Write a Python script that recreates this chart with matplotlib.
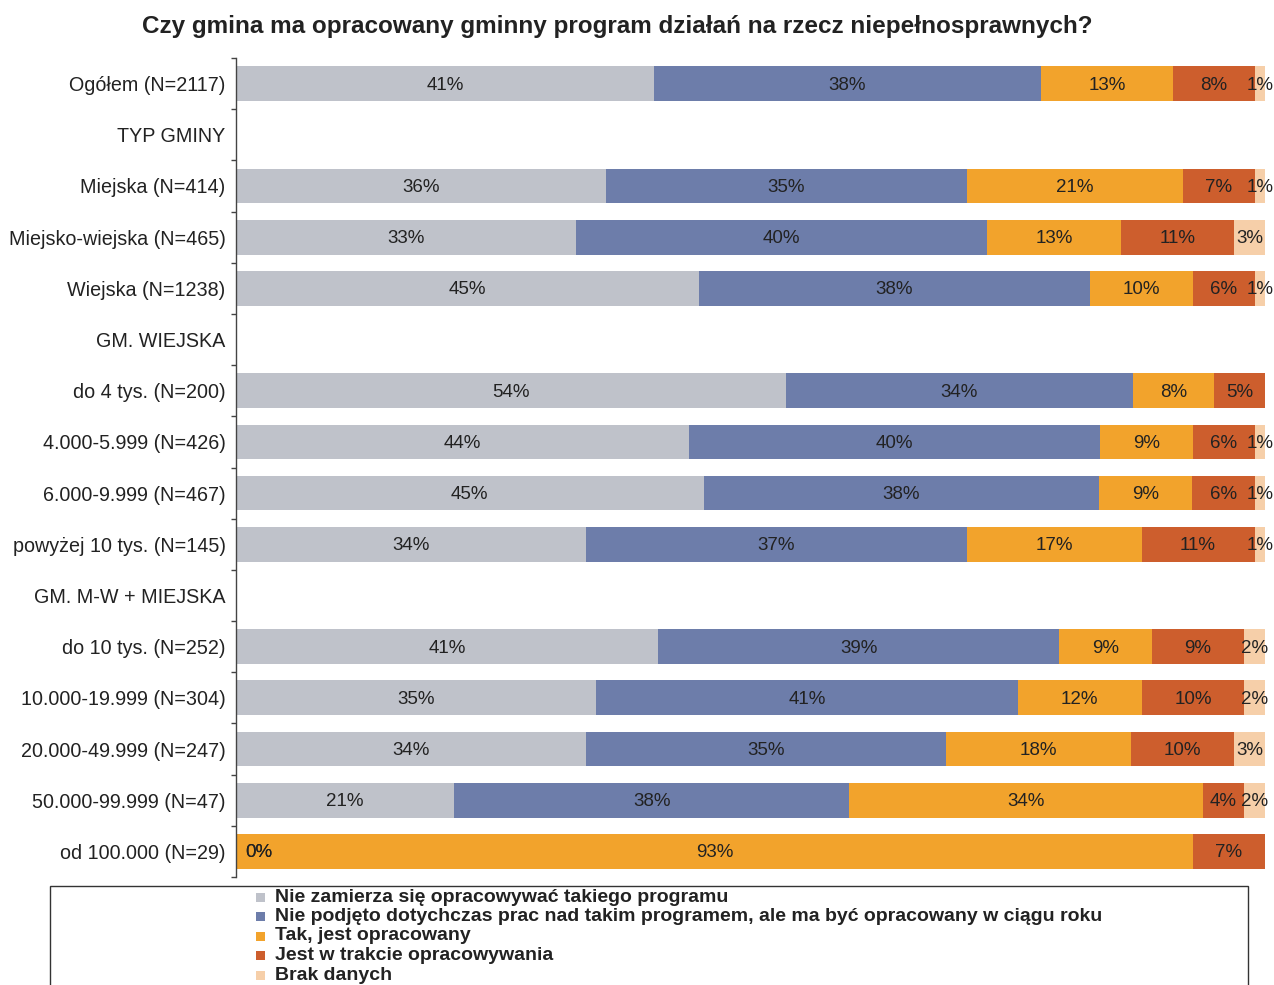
import matplotlib
matplotlib.use("Agg")
import matplotlib.pyplot as plt
from matplotlib.patches import Rectangle
import numpy as np

plt.rcParams['font.family'] = ['Liberation Sans', 'DejaVu Sans']

title = "Czy gmina ma opracowany gminny program działań na rzecz niepełnosprawnych?"

categories = [
    "Ogółem (N=2117)",
    "TYP GMINY",
    "Miejska (N=414)",
    "Miejsko-wiejska (N=465)",
    "Wiejska (N=1238)",
    "GM. WIEJSKA",
    "do 4 tys. (N=200)",
    "4.000-5.999 (N=426)",
    "6.000-9.999 (N=467)",
    "powyżej 10 tys. (N=145)",
    "GM. M-W + MIEJSKA",
    "do 10 tys. (N=252)",
    "10.000-19.999 (N=304)",
    "20.000-49.999 (N=247)",
    "50.000-99.999 (N=47)",
    "od 100.000 (N=29)",
]

series_names = [
    "Nie zamierza się opracowywać takiego programu",
    "Nie podjęto dotychczas prac nad takim programem, ale ma być opracowany w ciągu roku",
    "Tak, jest opracowany",
    "Jest w trakcie opracowywania",
    "Brak danych",
]

# None marks section header rows (no bar)
nie_zamierza = [41, None, 36, 33, 45, None, 54, 44, 45, 34, None, 41, 35, 34, 21, 0]
nie_podjeto = [38, None, 35, 40, 38, None, 34, 40, 38, 37, None, 39, 41, 35, 38, 0]
tak = [13, None, 21, 13, 10, None, 8, 9, 9, 17, None, 9, 12, 18, 34, 93]
w_trakcie = [8, None, 7, 11, 6, None, 5, 6, 6, 11, None, 9, 10, 10, 4, 7]
brak = [1, None, 1, 3, 1, None, 0, 1, 1, 1, None, 2, 2, 3, 2, 0]

series = [nie_zamierza, nie_podjeto, tak, w_trakcie, brak]
colors = ["#BFC2CA", "#6D7DAA", "#F2A32C", "#CD5E2D", "#F6CFA9"]
text_color = "#222222"

W, H = 1274, 985
fig = plt.figure(figsize=(W / 100, H / 100), dpi=100)
ax = fig.add_axes([236 / W, 1 - 877 / H, (1265 - 236) / W, (877 - 58) / H])

n = len(categories)
y = np.arange(n)
label_dy = 0.03  # small downward nudge so digits sit optically centred

for i in range(n):
    if series[0][i] is None:
        continue
    vals = [s[i] for s in series]
    total = sum(vals)
    left = 0.0
    for v, c in zip(vals, colors):
        share = v / total * 100
        ax.barh(i, share, left=left, height=0.68, color=c, edgecolor="none")
        if v > 0:
            ax.text(left + share / 2, i + label_dy, f"{v}%", ha="center",
                    va="center", fontsize=13.5, color=text_color)
        elif left == 0:
            ax.text(left + 0.9, i + label_dy, f"{v}%", ha="left",
                    va="center", fontsize=13.5, color=text_color)
        left += share

ax.set_xlim(0, 100)
ax.set_ylim(n - 0.5, -0.5)

for side in ("top", "right", "bottom"):
    ax.spines[side].set_visible(False)
ax.spines["left"].set_color("#444444")
ax.spines["left"].set_linewidth(1.0)

ax.set_xticks([])
ax.set_yticks(np.arange(-0.5, n, 1.0))
ax.set_yticklabels([])
ax.tick_params(axis="y", which="major", length=3.6, width=1.0, color="#444444")
ax.set_yticks(y, minor=True)
ax.set_yticklabels(categories, minor=True, fontsize=14.2, color=text_color)
ax.tick_params(axis="y", which="minor", length=0, pad=7.5)

fig.text(617.5 / W, 1 - 26 / H, title, ha="center", va="center",
         fontsize=17.5, fontweight="bold", color=text_color)

# Legend box and entries
fig.add_artist(Rectangle((50 / W, -0.05), (1248 - 50) / W, 0.05 + 1 - 886 / H,
                         transform=fig.transFigure, facecolor="none",
                         edgecolor="#333333", linewidth=1.0))
for k, (name, c) in enumerate(zip(series_names, colors)):
    yc = 897 + k * 19.5
    fig.add_artist(Rectangle((256 / W, 1 - (yc + 4.5) / H), 9 / W, 9 / H,
                             transform=fig.transFigure, facecolor=c,
                             edgecolor="none"))
    fig.text(275 / W, 1 - yc / H, name, ha="left", va="center",
             fontsize=14, fontweight="bold", color=text_color)

fig.savefig("out.png", dpi=100)
